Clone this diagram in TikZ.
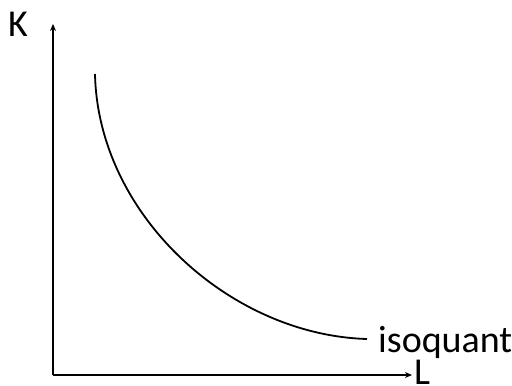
\documentclass[tikz,border=0pt]{standalone}
\usepackage{fontspec}
\setmainfont{Carlito}
\usetikzlibrary{arrows.meta}
\begin{document}
\begin{tikzpicture}[x=1pt,y=-1pt,
  axis/.style={line width=1.8pt,-{Stealth[length=7pt,width=6pt]}},
  lbl/.style={font=\fontsize{38}{42}\selectfont,inner sep=0pt}]
\useasboundingbox (0,0) rectangle (512,386);
\coordinate (O) at (53,375);
\coordinate (ytip) at (53,24);
\coordinate (xtip) at (412,375);
\coordinate (cs) at (95,74);
\coordinate (ce) at (367,339);
\draw[axis] (O) -- (ytip);
\draw[axis] (O) -- (xtip);
\draw[line width=1.8pt] (cs) .. controls (98,215) and (230,335) .. (ce);
\node[lbl] (K) at (18,24) {K};
\node[lbl,anchor=west] (L) at (414,372) {L};
\node[lbl,anchor=base west] (iso) at (378,352) {isoquant};
\end{tikzpicture}
\end{document}
